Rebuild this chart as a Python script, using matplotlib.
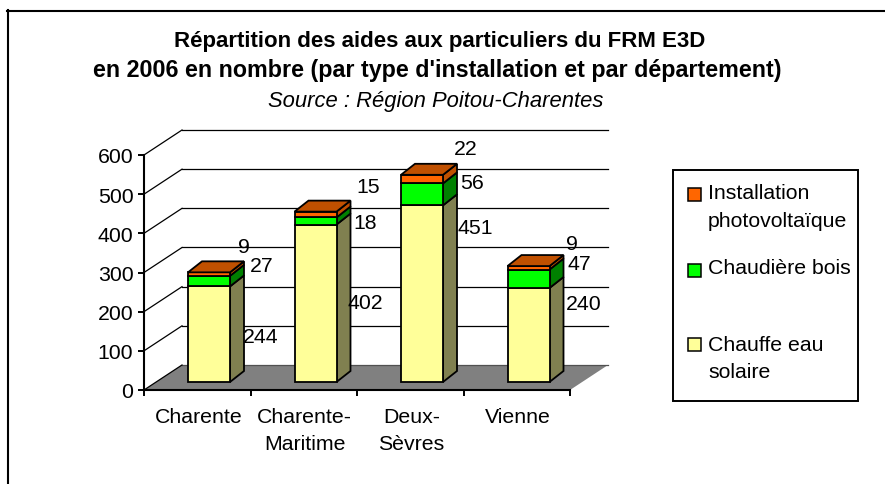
import matplotlib
matplotlib.use("Agg")
import matplotlib.pyplot as plt
from matplotlib.lines import Line2D
from matplotlib.patches import Polygon, Rectangle

plt.rcParams["font.family"] = ["Liberation Sans", "DejaVu Sans"]

departements = ["Charente", "Charente-\nMaritime", "Deux-\nSèvres", "Vienne"]
solaire = [244, 402, 451, 240]
bois = [27, 18, 56, 47]
photovoltaique = [9, 15, 22, 9]
y_ticks = [0, 100, 200, 300, 400, 500, 600]

# hand placed label offsets in pixels from the segment's right edge (solar, wood, pv)
label_nudge = [
    [(13, -2), (20, 16), (8, 28)],
    [(11.5, 1), (16.5, -1), (19.5, 28)],
    [(15, 66), (17, 12), (11, 31)],
    [(16.5, 31), (17.5, 15), (16.5, 24)],
]

W, H = 885, 485
# plot box in pixels, everything 3d is an offset from it
AX_L, AX_R, AX_T, AX_B = 144, 570, 156, 391
PX_X = (AX_R - AX_L) / 4
PX_Y = (AX_B - AX_T) / 600

DEPTH_X = 38 / PX_X
DEPTH_Y = 25 / PX_Y
BAR_W = 42 / PX_X
BAR_DX = 14 / PX_X
BAR_DY = 11 / PX_Y
BAR_SHIFT_X = 44 / PX_X
BAR_SHIFT_Y = 8 / PX_Y
FS = 15.3

FACES = [
    ("#FFFF99", "#808050"),
    ("#00FF00", "#008000"),
    ("#FF6600", "#C05000"),
]
LEGEND_COLORS = ["#FF6600", "#00FF00", "#FFFF99"]

fig = plt.figure(figsize=(W / 100, H / 100), dpi=100)
ax = fig.add_axes([AX_L / W, 1 - AX_B / H, (AX_R - AX_L) / W, (AX_B - AX_T) / H])
ax.set_xlim(0, 4)
ax.set_ylim(0, 600)
ax.patch.set_visible(False)
for s in ["top", "right"]:
    ax.spines[s].set_visible(False)
for s in ["left", "bottom"]:
    ax.spines[s].set_linewidth(1.5)
    ax.spines[s].set_zorder(1.5)


def poly(pts, face, lw=1.3, z=3):
    ax.add_patch(Polygon(pts, closed=True, facecolor=face, edgecolor="black",
                         linewidth=lw, clip_on=False, zorder=z, joinstyle="miter"))


# floor
ax.add_patch(Polygon([(0, 0), (4, 0), (4 + DEPTH_X, DEPTH_Y), (DEPTH_X, DEPTH_Y)],
                     facecolor="#808080", edgecolor="none", clip_on=False, zorder=1))

# back wall grid + left wall diagonals
for v in y_ticks:
    color = "black" if v > 0 else "#505050"
    ax.plot([DEPTH_X, 4 + DEPTH_X], [v + DEPTH_Y] * 2, color=color, lw=0.9,
            clip_on=False, zorder=1)
    ax.plot([0, DEPTH_X], [v, v + DEPTH_Y], color="black", lw=0.9, clip_on=False, zorder=1)

ax.set_xticks(range(5))
ax.set_xticklabels([])
ax.set_yticks(y_ticks)
ax.tick_params(axis="both", width=1.4, length=4.3, labelsize=FS, pad=3.4)

# stacked 3d bars
for i, name in enumerate(departements):
    x0 = i + BAR_SHIFT_X
    x1 = x0 + BAR_W
    base = BAR_SHIFT_Y
    stacks = [solaire[i], bois[i], photovoltaique[i]]
    for val, (front, side), nudge in zip(stacks, FACES, label_nudge[i]):
        y1 = base + val
        poly([(x1, base), (x1 + BAR_DX, base + BAR_DY), (x1 + BAR_DX, y1 + BAR_DY), (x1, y1)], side)
        poly([(x0, base), (x1, base), (x1, y1), (x0, y1)], front)
        ax.annotate(str(val), xy=(x1, base + val / 2), xytext=nudge, textcoords="offset pixels",
                    fontsize=FS, ha="left", va="center", annotation_clip=False, zorder=6)
        base = y1
    poly([(x0, base), (x1, base), (x1 + BAR_DX, base + BAR_DY), (x0 + BAR_DX, base + BAR_DY)], FACES[2][1])
    ax.text(i + 0.51, -43, name, ha="center", va="top", fontsize=FS, linespacing=1.55, clip_on=False)

# titles, the original has wide tracking so sizes are fitted to the line widths
fig.text(439.5 / W, 1 - 47 / H, "Répartition des aides aux particuliers du FRM E3D",
         ha="center", va="baseline", fontsize=16, fontweight="bold")
fig.text(437 / W, 1 - 77 / H, "en 2006 en nombre (par type d'installation et par département)",
         ha="center", va="baseline", fontsize=16.75, fontweight="bold")
fig.text(436 / W, 1 - 107 / H, "Source : Région Poitou-Charentes",
         ha="center", va="baseline", fontsize=15.8, style="italic")

# legend box
fig.add_artist(Rectangle((673 / W, 1 - 402 / H), 185 / W, 231 / H, facecolor="white",
                         edgecolor="black", linewidth=1.4, transform=fig.transFigure))
legend_rows = [("Installation\nphotovoltaïque", 195, 207.5), ("Chaudière bois", 271, 269),
               ("Chauffe eau\nsolaire", 345.5, 359)]
for (txt, ys, yt), c in zip(legend_rows, LEGEND_COLORS):
    fig.add_artist(Rectangle((688 / W, 1 - (ys + 6.5) / H), 13 / W, 13 / H, facecolor=c,
                             edgecolor="black", linewidth=1.1, transform=fig.transFigure))
    fig.text(708 / W, 1 - yt / H, txt, ha="left", va="center", fontsize=FS, linespacing=1.55)

# outer frame, only top and left are inside the picture
fig.add_artist(Line2D([7 / W, 1], [1 - 11.5 / H] * 2, color="black", lw=1.5, transform=fig.transFigure))
fig.add_artist(Line2D([8 / W] * 2, [0, 1 - 11 / H], color="black", lw=1.5, transform=fig.transFigure))

fig.savefig("out.png", dpi=100)
